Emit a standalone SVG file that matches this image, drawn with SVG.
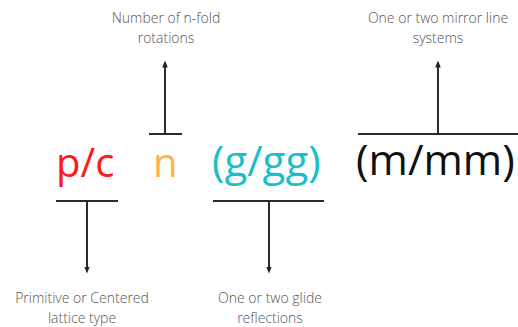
<svg xmlns="http://www.w3.org/2000/svg" width="518" height="327" viewBox="0 0 518 327">
<defs>
<marker id="ah" viewBox="0 0 10 10" refX="5" refY="5" markerWidth="7" markerHeight="7" markerUnits="userSpaceOnUse" orient="auto">
<path d="M0,1 L10,5 L0,9 z" fill="#222"/>
</marker>
<style>
.big{font-family:"Open Sans","Noto Sans",sans-serif;font-size:40px;text-anchor:start}
.lbl{font-family:"Open Sans","Noto Sans",sans-serif;font-size:14px;font-weight:300;fill:#555;text-anchor:middle}
.ln{stroke:#2b2b2b;stroke-width:2;fill:none}
</style>
</defs>
<rect width="518" height="327" fill="#fff"/>
<g id="connectors">
<line class="ln" x1="149" y1="134" x2="182" y2="134"/>
<line class="ln" x1="165" y1="134" x2="165" y2="64" marker-end="url(#ah)"/>
<line class="ln" x1="358" y1="134" x2="518" y2="134"/>
<line class="ln" x1="438" y1="134" x2="438" y2="64" marker-end="url(#ah)"/>
<line class="ln" x1="56" y1="201" x2="118" y2="201"/>
<line class="ln" x1="87" y1="201" x2="87" y2="270" marker-end="url(#ah)"/>
<line class="ln" x1="213" y1="201" x2="324" y2="201"/>
<line class="ln" x1="269" y1="201" x2="269" y2="270" marker-end="url(#ah)"/>
</g>
<g id="pc"><text class="big" x="56" y="177" fill="#ff1a1a">p/c</text></g>
<g id="n"><text class="big" x="153" y="177" fill="#ffb347">n</text></g>
<g id="ggg"><text class="big" x="212" y="176" fill="#1cbfc7" style="font-size:42px">(g/gg)</text></g>
<g id="mmm"><text class="big" x="356" y="175" fill="#111" style="font-size:42.5px">(m/mm)</text></g>
<g id="rot"><text class="lbl" x="166" y="23">Number of n-fold</text><text class="lbl" x="166" y="43">rotations</text></g>
<g id="mirror"><text class="lbl" x="438" y="23">One or two mirror line</text><text class="lbl" x="438" y="43">systems</text></g>
<g id="lattice"><text class="lbl" x="82" y="303">Primitive or Centered</text><text class="lbl" x="82" y="323">lattice type</text></g>
<g id="glide"><text class="lbl" x="270" y="303">One or two glide</text><text class="lbl" x="270" y="323">reflections</text></g>
</svg>
